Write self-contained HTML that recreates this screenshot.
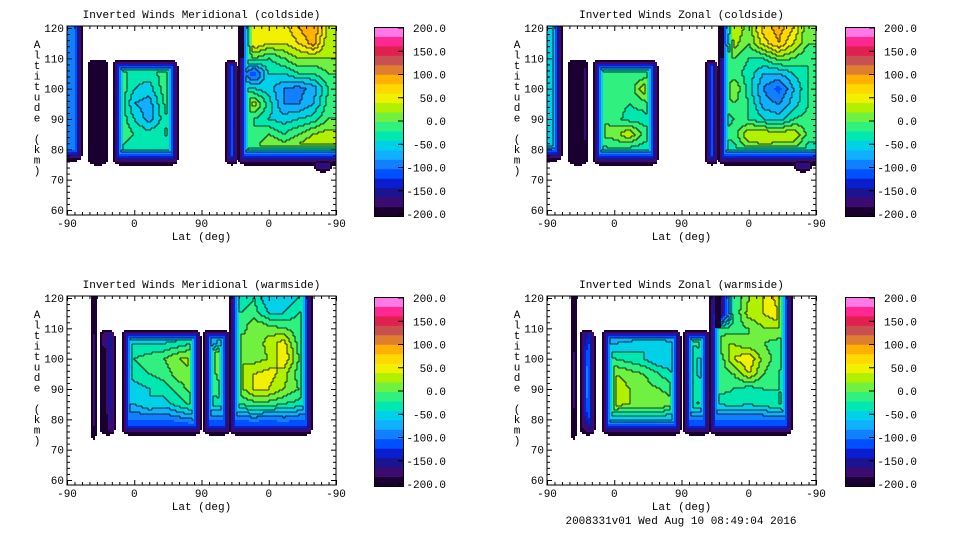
<!DOCTYPE html>
<html><head><meta charset="utf-8">
<style>
html,body{margin:0;padding:0;background:#fff;}
svg{display:block;font-family:"Liberation Mono","DejaVu Sans Mono",monospace;}
</style></head>
<body>
<svg id="root" width="960" height="540" viewBox="0 0 960 540"></svg>
<script>
// ---- data ----
const latCenters = [10,30,50,70,90,110,130,150,170,190,210,230,250,270,290,310,330,350];
const altRows = [120,115,110,105,100,95,90,85,80,75];
const xTickLabels = ['-90','0','90','0','-90'];
const yTickValues = [60,70,80,90,100,110,120];
const cbLabels = ['200.0','150.0','100.0','50.0','0.0','-50.0','-100.0','-150.0','-200.0'];
const B = -150;
const meridCold = [
[-100,-200,-200,-20,-20,-20,-20,0,0,0,-20,-200,60,40,50,80,100,30],
[-100,-200,-200,-20,-20,-20,-20,0,0,0,-20,-200,60,40,40,60,90,20],
[-100,-200,-200,-20,-20,-20,-20,0,0,0,-20,-20,0,-20,0,20,20,20],
[-100,-200,-200,-10,-30,-30,-10,0,0,0,-20,-60,-120,-40,-40,-20,-20,0],
[-100,-200,-200,0,-40,-50,-10,20,0,0,0,-20,-40,-50,-80,-90,-70,-20],
[-100,-200,-200,0,-60,-70,-20,30,0,0,40,-10,30,-30,-80,-80,-60,-10],
[-100,-200,-200,0,-40,-70,-30,20,0,0,60,-20,-20,-40,-50,-40,-30,0],
[-100,-200,-200,0,-20,-30,-20,0,0,0,80,-10,-20,0,-20,0,20,30],
[-100,-200,-200,-20,-40,-40,-40,-40,0,0,-40,-40,-10,30,20,30,50,40],
[B,-200,-200,B,B,B,B,B,0,0,B,B,B,B,B,B,B,-100]];
const zonalCold = [
[-50,-200,-200,-20,-20,-20,-20,0,0,0,-20,-200,40,10,70,90,60,0],
[-50,-200,-200,-20,-20,-20,-20,0,0,0,-20,-200,30,0,50,80,40,0],
[-50,-200,-200,-20,-20,-20,-20,0,0,0,-20,-20,0,-20,-20,10,0,-20],
[-50,-200,-180,-20,-10,-20,-20,0,0,0,-40,-30,-10,-30,-60,-60,-40,-20],
[-50,-200,-180,-10,0,-20,40,20,0,0,-20,-20,20,-30,-80,-110,-60,-20],
[-50,-200,-180,-10,-10,-20,-10,20,0,0,-20,-20,0,-20,-70,-80,-50,-20],
[-50,-200,-180,0,-10,-30,-30,-20,0,0,-20,-40,-20,-20,-40,-50,-20,-10],
[-50,-200,-180,10,10,40,-10,-10,0,0,-30,-20,-10,40,40,30,40,-10],
[-50,-200,-200,-30,-20,-30,-30,-30,0,0,-60,-40,-30,0,10,10,0,-30],
[B,-200,-200,B,B,B,B,B,0,0,B,B,B,B,B,B,B,-100]];
const meridWarm = [
[0,-200,-200,-20,-20,-20,-20,-20,-20,-20,-20,-40,-20,-60,-60,-40,-20,0],
[0,-200,-200,-20,-20,-20,-20,-20,-20,-20,-20,-20,-10,-40,-40,-20,0,0],
[0,-200,-180,-100,-80,-80,-80,-80,-80,-80,-60,-20,20,10,0,-10,10,0],
[0,-150,-180,-60,-40,-40,-40,-30,-20,-80,-40,20,0,30,50,-10,-30,0],
[0,-150,-200,-30,-20,-10,0,20,30,40,50,20,10,20,60,0,-20,0],
[0,-150,-200,-40,-30,-20,-10,10,20,-20,20,20,40,50,30,-10,-40,0],
[0,-150,-200,-60,-50,-40,-30,-10,10,-20,0,10,40,40,20,0,-40,0],
[0,-150,-200,-60,-60,-40,-50,-30,-10,-30,-30,-20,-10,-10,-20,-30,-50,0],
[0,-150,-200,-100,-100,-100,-100,-90,-80,-100,-100,-100,-90,-100,-90,-100,-100,0],
[B,-200,-200,B,B,B,B,B,B,B,B,B,B,B,B,B,B,B]];
const zonalWarm = [
[0,-200,-200,-20,-20,-20,-20,-20,-20,-20,-20,-200,-20,20,40,70,60,0],
[0,-200,-200,-20,-20,-20,-20,-20,-20,-20,-20,-200,-20,30,40,60,50,0],
[0,-200,-150,-150,-120,-120,-120,-120,-120,-120,-40,-20,-10,0,20,20,10,0],
[0,-200,-150,-60,-60,-50,-40,-40,-60,-20,-10,20,20,0,0,-10,-10,0],
[0,-200,-120,-20,-20,-30,-40,-60,-60,-40,-40,-20,40,60,10,-10,-30,0],
[0,-200,-120,10,20,10,0,-20,-40,-30,-50,-10,0,40,0,-20,-50,0],
[0,-200,-120,30,40,20,10,0,-10,-30,-30,-10,-20,-30,-20,-20,-30,0],
[0,-200,-130,20,30,20,20,20,0,-30,-10,-40,-30,-40,-30,-20,20,0],
[0,-200,-150,-60,-60,-60,-60,-60,-60,-100,-100,-100,-100,-100,-100,-100,-90,0],
[B,-200,-200,B,B,B,B,B,B,B,B,B,B,B,B,B,B,B]];
// data-coverage blocks: [lat0, lat1, alt0, alt1]
const coldBlocks = [[0,20,76,121],[28,55,75,109.5],[62,149,75,109.5],[211,229,75,109.5],[229,360,75,121],[330,355,72.5,76]];
const warmBlocks = [[32,39,73,121],[44,64,75,109.5],[74,179,75,109.5],[182,218,75,109.5],[217,328,75,121]];
// minimum-value strips: [lat0, lat1, alt0, alt1]
const coldMinStrips = [[229,238,110,121]];
const warmZonalMinStrips = [[226,233,110,121]];
const colors = ['#1a0030','#3c0a70','#1a1490','#0a1ed0','#0050ff','#1080ff','#10b0ff','#00d0e8','#00e8b0','#30f080','#70f040','#b0f000','#f0f000','#ffd800','#ffb000','#e07e30','#c85050','#e02050','#ff2890','#ff78e8'];

const panels = [
 {name:'meridional-coldside',title:'Inverted Winds Meridional (coldside)',x0:67,y0:26,cb:374,grid:meridCold,blocks:coldBlocks,strips:coldMinStrips},
 {name:'zonal-coldside',title:'Inverted Winds Zonal (coldside)',x0:547,y0:26,cb:845,grid:zonalCold,blocks:coldBlocks,strips:coldMinStrips},
 {name:'meridional-warmside',title:'Inverted Winds Meridional (warmside)',x0:67,y0:296,cb:374,grid:meridWarm,blocks:warmBlocks,strips:[]},
 {name:'zonal-warmside',title:'Inverted Winds Zonal (warmside)',x0:547,y0:296,cb:845,grid:zonalWarm,blocks:warmBlocks,strips:warmZonalMinStrips}];

const NS='http://www.w3.org/2000/svg';
const root=document.getElementById('root');
function mk(tag,attrs,parent){const e=document.createElementNS(NS,tag);for(const k in attrs)e.setAttribute(k,attrs[k]);(parent||root).appendChild(e);return e;}
const W=269,H=189;
function sample(grid,d,a){
  let fx=(d-10)/20, fy=(120-a)/5;
  fx=Math.max(0,Math.min(latCenters.length-1,fx)); fy=Math.max(0,Math.min(altRows.length-1,fy));
  const i=Math.min(Math.floor(fx),latCenters.length-2), j=Math.min(Math.floor(fy),altRows.length-2);
  const tx=fx-i, ty=fy-j;
  const v00=grid[j][i],v01=grid[j][i+1],v10=grid[j+1][i],v11=grid[j+1][i+1];
  return (v00*(1-tx)+v01*tx)*(1-ty)+(v10*(1-tx)+v11*tx)*ty;
}
function lvl(v){return Math.max(0,Math.min(19,Math.floor((v+200)/20)));}

panels.forEach(p=>{
  const g=mk('g',{});
  
  
  const xs=d=>p.x0+d*W/360;
  const ys=a=>p.y0+2+(120-a)*182/60;
  const t=mk('text',{x:p.x0+W/2,y:p.y0-8,'text-anchor':'middle','font-size':'11'},g);
  t.textContent=p.title;
  
  
  const field=mk('g',{},g);
  
  
  const step=2;
  let lineD='';
  const inStrip=(d,a)=>p.strips.some(s=>d>=s[0]&&d<s[1]&&a>=s[2]&&a<=s[3]);
  p.blocks.forEach(bk=>{
    const px0=Math.round(xs(bk[0])),px1=Math.round(xs(bk[1]));
    const py0=Math.max(p.y0,Math.round(ys(bk[3]))),py1=Math.round(ys(bk[2]));
    const topB=bk[3]>=120.5, leftB=bk[0]<=0, rightB=bk[1]>=360;
    const rows=[];
    for(let py=py0;py<py1;py+=step){
      const row=[];
      for(let px=px0;px<px1;px+=step){
        const cx=px+step/2, cy=py+step/2;
        const d=(cx-p.x0)*360/W, a=120-(cy-p.y0-2)*60/182;
        let v=sample(p.grid,d,a);
        if(inStrip(d,a)) v=-200;
        const eb=py1-cy, et=topB?99:cy-py0, el=leftB?99:cx-px0, er=rightB?99:px1-cx;
        const ex=Math.min(el,er), ey=Math.min(eb,et);
        // rounded corners
        const R=6;
        if(ex<R&&ey<R){const dx=R-ex,dy=R-ey;if(dx*dx+dy*dy>R*R){row.push(-1);continue;}}
        v=Math.min(v,-215+eb*11,-215+et*16,-215+ex*18);
        row.push(lvl(v));
      }
      rows.push(row);
    }
    rows.forEach((row,ri)=>{
      const py=py0+ri*step;
      let runStart=0,runLvl=row[0];
      for(let ci=1;ci<=row.length;ci++){
        const l=ci<row.length?row[ci]:-2;
        if(l!==runLvl){
          if(runLvl>=0){
            const r=mk('rect',{x:px0+runStart*step,y:py,width:(ci-runStart)*step,height:step,fill:colors[runLvl]},field);
            
            
          }
          runStart=ci;runLvl=l;
        }
      }
      // contour lines
      for(let ci=0;ci<row.length;ci++){
        const l=row[ci]; if(l<0) continue;
        const px=px0+ci*step;
        if(ci+1<row.length&&row[ci+1]>=0&&row[ci+1]!==l&&Math.max(l,row[ci+1])>=6&&(l+row[ci+1])%2===1)
          lineD+='M'+(px+step)+' '+py+'v'+step;
        if(ri+1<rows.length&&rows[ri+1][ci]>=0&&rows[ri+1][ci]!==l&&Math.max(l,rows[ri+1][ci])>=6)
          lineD+='M'+px+' '+(py+step)+'h'+step;
      }
    });
  });
  if(lineD){
    const cl=mk('path',{d:lineD,stroke:'#000','stroke-width':0.8,fill:'none'},field);
    
    
  }
  const box=mk('rect',{x:p.x0,y:p.y0,width:W,height:H,fill:'none',stroke:'#000','stroke-width':1},g);
  
  
  for(let d=0;d<=360;d+=10){
    const x=xs(d)+0.5, major=d%90===0, len=major?5:3;
    mk('line',{x1:x,y1:p.y0+H,x2:x,y2:p.y0+H-len,stroke:'#000'},g);
    mk('line',{x1:x,y1:p.y0,x2:x,y2:p.y0+len,stroke:'#000'},g);
  }
  xTickLabels.forEach((s,i)=>{
    const tx=mk('text',{x:xs(i*90),y:p.y0+H+12,'text-anchor':'middle','font-size':'11'},g);
    tx.textContent=s;
    
    
  });
  const xl=mk('text',{x:p.x0+W/2,y:p.y0+H+25,'text-anchor':'middle','font-size':'11'},g);
  xl.textContent='Lat (deg)';
  
  
  for(let a=60;a<=120;a+=2){
    const y=ys(a)+0.5, major=a%10===0, len=major?5:3;
    mk('line',{x1:p.x0,y1:y,x2:p.x0+len,y2:y,stroke:'#000'},g);
    mk('line',{x1:p.x0+W,y1:y,x2:p.x0+W-len,y2:y,stroke:'#000'},g);
  }
  yTickValues.forEach(a=>{
    const ty=mk('text',{x:p.x0-3,y:ys(a)+4,'text-anchor':'end','font-size':'11'},g);
    ty.textContent=String(a);
    
    
  });
  const yt=mk('text',{x:p.x0-30,y:p.y0+22,'text-anchor':'middle','font-size':'11'},g);
  
  
  'Altitude (km)'.split('').forEach((c,i)=>{const s=mk('tspan',{x:p.x0-30,y:p.y0+22+i*10.5},yt);s.textContent=c;});
  const cb=mk('g',{},g);
  
  
  const cbTop=p.y0+1,cbH=189,bh=cbH/20;
  colors.forEach((c,i)=>{
    const r=mk('rect',{x:p.cb,y:cbTop+cbH-(i+1)*bh,width:29,height:bh+0.5,fill:c},cb);
    
    
  });
  mk('rect',{x:p.cb+0.5,y:cbTop+0.5,width:29,height:cbH,fill:'none',stroke:'#000'},cb);
  cbLabels.forEach((s,i)=>{
    const y=cbTop+1+i*(cbH-3)/8;
    mk('line',{x1:p.cb+24,y1:y,x2:p.cb+29,y2:y,stroke:'#000'},cb);
    const tl=mk('text',{x:p.cb+72,y:y+4,'text-anchor':'end','font-size':'11'},cb);
    tl.textContent=s;
    
    
  });
});
const ft=mk('text',{x:681,y:524,'text-anchor':'middle','font-size':'11'});
ft.textContent='2008331v01 Wed Aug 10 08:49:04 2016';


</script>
</body></html>
